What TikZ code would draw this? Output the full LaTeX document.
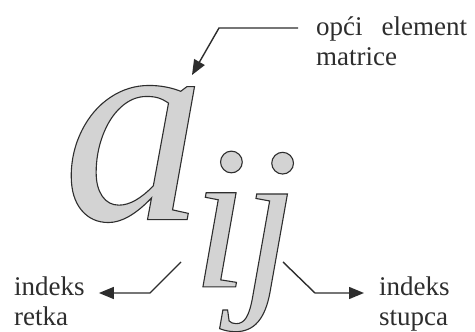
\documentclass[tikz,border=0pt]{standalone}
\usepackage{fontspec}
\setmainfont{Liberation Serif}
\usetikzlibrary{arrows.meta}
\definecolor{glyphgray}{RGB}{211,211,211}
\definecolor{linegray}{RGB}{45,45,45}
% fill and stroke the glyph outline
\newcommand\outlined[1]{\textcolor{glyphgray}{\special{pdf:code 0.18 G 1.1 w 2 Tr}#1\special{pdf:code 0 Tr}}}

\begin{document}
\begin{tikzpicture}[x=1pt,y=1pt,
  glyph/.style={inner sep=0pt},
  lbl/.style={inner sep=0pt, align=left, text=linegray,
              font=\fontsize{27}{30}\selectfont},
  arr/.style={-{Triangle[length=15pt,width=12pt]}, line width=1.4pt, draw=linegray}
]
\useasboundingbox (0,0) rectangle (475,332);
% the element symbol
\node[glyph, font=\fontsize{285}{285}\selectfont\itshape] (a) at (134,178) {\outlined{a}};
\node[glyph, font=\fontsize{205}{205}\selectfont\itshape] (i) at (220,113) {\outlined{i}};
\node[glyph, font=\fontsize{205}{205}\selectfont\itshape] (j) at (270,90)  {\outlined{j}};
% labels
\node[lbl, anchor=north west] (elem)   at (316,315) {opći\hspace{0.7em}element\\matrice};
\node[lbl, anchor=north west] (row)    at (14,55)   {indeks\\retka};
\node[lbl, anchor=north west] (column) at (379,55)  {indeks\\stupca};
% free ends
\coordinate (atop)  at (192,257);
\coordinate (ifoot) at (181,70);
\coordinate (jfoot) at (283,70);
\draw[arr] ([shift={(-18,-11)}]elem.north west) -- ++(-79,0) -- (atop);
\draw[arr] (ifoot) -- ++(-31,-31) -- ([shift={(14,-16)}]row.north east);
\draw[arr] (jfoot) -- ++(32,-31) -- ([shift={(-15,-16)}]column.north west);
\end{tikzpicture}
\end{document}
